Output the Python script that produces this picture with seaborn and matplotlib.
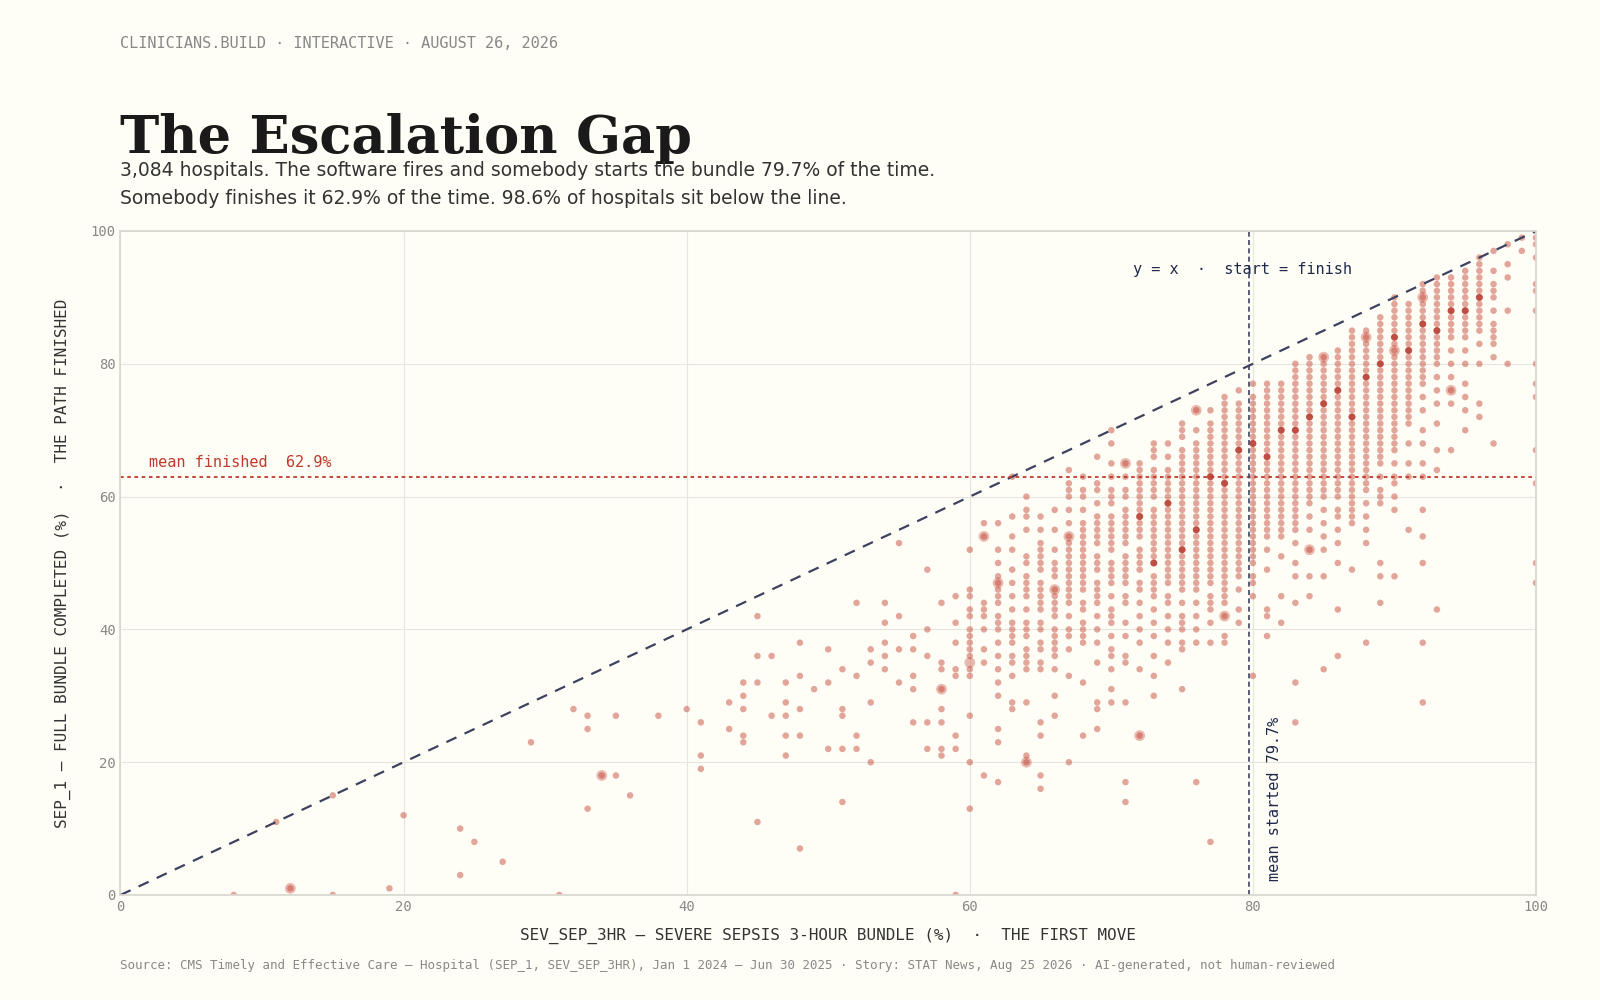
import matplotlib
matplotlib.use("Agg")
import matplotlib.pyplot as plt
import seaborn as sns
import pandas as pd

sns.set_theme(style="whitegrid")
plt.rcParams['font.family'] = ['DejaVu Sans']

BG = "#fffef6"
RED = "#c0392b"
NAVY = "#3d4260"

low_x = [8,11,12,15,15,19,20,24,24,25,27,29,31,32,33,33,33,34,35,35,36,38,40,41,41,41,43,43,44,44,44,44,44,45,45,45,45,46,46,47,47,47,47,47,48,48,48,48,48,49,50,50,50,51,51,51,51,51,52,52,52,52,53,53,53,53,54,54,54,54,54,55,55,55,55,56,56,56,56,56,57,57,57,57,57,58,58,58,58,58,58,58,58,59,59,59,59,59,59,59,59]
low_y = [0,11,1,0,15,1,12,3,10,8,5,23,0,28,13,25,27,18,18,27,15,27,28,19,21,26,25,29,23,24,28,30,32,11,32,36,42,27,36,21,24,27,29,32,7,24,28,33,38,31,22,32,37,14,22,27,28,34,22,24,33,44,20,29,35,37,34,36,38,41,44,32,37,42,53,26,31,33,37,39,22,26,36,40,49,21,22,26,28,31,34,35,44,0,22,24,33,34,38,41,45]

col_x = list(range(60, 101))
col_y = [
 [13,20,27,33,34,36,37,38,39,40,42,43,45,46,52],
 [18,35,37,40,42,43,44,54,56],
 [17,23,25,30,32,34,36,38,40,41,42,44,45,46,47,48,50,52,56],
 [28,29,33,35,36,38,39,40,41,43,45,47,49,52,54,57,63],
 [20,21,29,34,35,36,37,39,40,41,43,45,46,47,48,50,51,55,57,58,60],
 [16,18,24,26,34,35,37,38,40,41,43,44,45,46,47,49,50,51,52,53,55,57],
 [27,30,34,36,37,38,39,40,42,43,44,45,46,48,49,50,52,55,58],
 [20,33,37,39,40,42,44,45,46,47,48,49,50,51,52,53,54,56,58,60,61,62,64],
 [24,32,38,39,40,41,43,44,46,47,48,49,50,51,52,53,54,55,56,58,60,61,63],
 [25,28,29,35,38,40,42,44,45,46,47,49,50,51,53,54,55,56,57,59,61,62,66],
 [29,31,34,36,37,39,41,42,43,45,47,48,49,50,52,53,54,55,56,57,59,60,61,63,65,68,70],
 [14,17,29,35,36,39,41,44,45,47,48,49,50,51,53,54,55,56,57,58,60,61,63,65],
 [24,34,38,40,42,44,46,47,49,50,51,52,54,55,56,57,58,59,60,61,62,63,64,65],
 [30,33,36,39,41,43,45,46,47,48,50,51,52,53,54,55,56,57,58,60,61,62,63,64,66,67,68],
 [35,38,40,42,44,45,47,48,49,50,51,52,53,54,55,56,57,58,59,60,61,62,63,64,66,68],
 [31,37,38,40,41,42,44,46,47,48,49,50,51,52,53,54,55,56,57,58,59,60,61,62,63,64,65,66,67,69,70,71],
 [17,38,40,42,44,46,47,48,49,50,51,52,53,54,55,56,57,58,59,60,61,62,63,64,65,66,67,68,70,73],
 [8,38,41,43,44,45,47,48,49,50,51,52,53,54,55,56,57,58,59,60,61,62,63,64,65,66,67,68,69,70,71,73],
 [38,39,42,44,45,46,47,48,49,50,51,52,53,54,55,56,57,58,59,60,61,62,63,64,65,66,67,68,69,70,71,72,73,74,75],
 [41,43,46,48,49,50,51,52,53,54,55,56,57,58,59,60,61,62,63,64,65,66,67,68,69,70,71,72,73,74,76],
 [33,45,47,48,50,51,52,53,54,55,56,57,58,59,60,61,62,63,64,65,66,67,68,69,70,71,72,73,74,75,77],
 [39,42,43,49,52,54,55,56,57,58,59,60,61,62,63,64,65,66,67,68,69,70,71,72,73,74,75,76,77],
 [41,45,51,54,55,56,57,58,59,60,61,62,63,64,65,66,67,68,69,70,71,72,73,74,75,76,77],
 [26,32,44,48,50,53,55,56,57,58,59,60,61,62,63,64,65,66,67,68,69,70,71,72,73,74,75,76,77,78,79,80],
 [45,48,52,55,57,59,60,61,62,63,64,65,66,67,68,69,70,71,72,73,74,75,76,77,78,79,80,81],
 [34,48,52,54,56,58,60,61,62,63,64,65,66,67,68,69,70,71,72,73,74,75,76,77,78,79,80,81],
 [36,43,50,53,55,57,58,60,61,62,63,64,65,66,67,68,69,70,71,72,73,74,75,76,77,78,79,80,81,82],
 [49,56,57,58,59,60,61,62,63,64,65,66,67,68,69,70,71,72,73,74,75,76,77,78,79,80,81,82,83,84,85],
 [38,53,55,57,59,61,62,63,64,65,66,67,68,69,70,71,72,73,74,75,76,77,78,79,80,81,82,83,84,85],
 [44,48,50,59,60,61,63,65,66,67,68,69,70,71,72,73,74,75,76,77,78,79,80,81,82,83,84,85,86,87],
 [48,58,60,62,63,65,67,68,69,70,71,72,73,74,75,76,77,78,79,80,81,82,83,84,85,86,87,88,89,90],
 [55,63,65,68,71,72,73,74,75,76,77,78,79,80,81,82,83,84,85,86,87,88,89],
 [29,38,50,54,58,63,65,68,70,73,75,77,78,79,80,81,82,83,84,85,86,87,88,89,90,91,92],
 [43,64,67,71,74,76,78,80,81,82,83,84,85,86,87,88,89,90,91,92,93],
 [67,74,76,78,80,82,84,85,86,87,88,89,90,91,92,93],
 [70,73,75,77,80,82,84,85,86,87,88,89,90,91,92,93,94],
 [72,74,80,83,85,86,87,88,89,90,91,92,93,94,95,96],
 [68,81,83,84,85,86,88,90,91,92,94,97],
 [80,88,93,95,98],
 [97,99],
 [47,50,62,67,75,77,80,88,91,92,96,98,99,100],
]
dense_x = [72,74,76,78,80,82,84,86,88,90,92,94,96,73,75,77,79,81,83,85,87,89,91,93,95]
dense_y = [57,59,55,62,68,70,72,76,78,84,86,88,90,50,52,63,67,66,70,74,72,80,82,85,88]
big_x = [12,34,61,71,72,64,62,66,85,76,78,58,60,67,84,90,94,88,92]
big_y = [1,18,54,65,24,20,47,46,81,73,42,31,35,54,52,82,76,84,90]

xs = list(low_x)
ys = list(low_y)
for x, yl in zip(col_x, col_y):
    xs += [x] * len(yl)
    ys += yl
df = pd.DataFrame({"x": xs, "y": ys})
dfd = pd.DataFrame({"x": dense_x, "y": dense_y})
dfb = pd.DataFrame({"x": big_x, "y": big_y})

fig = plt.figure(figsize=(16, 10), dpi=100, facecolor=BG)
ax = fig.add_axes([0.0753, 0.105, 0.8847, 0.664])
ax.set_facecolor(BG)

sns.scatterplot(data=df, x="x", y="y", ax=ax, s=22, color=RED, alpha=0.45, edgecolor="none")
sns.scatterplot(data=dfd, x="x", y="y", ax=ax, s=26, color="#b02a1e", alpha=0.7, edgecolor="none")
sns.scatterplot(data=dfb, x="x", y="y", ax=ax, s=60, color=RED, alpha=0.35, edgecolor="none")

ax.plot([0, 100], [0, 100], ls=(0, (5, 4)), color=NAVY, lw=1.6)
ax.axhline(62.9, color=RED, ls=(0, (2, 2)), lw=1.3)
ax.axvline(79.7, color=NAVY, ls=(0, (3, 2)), lw=1.2)
mono = "DejaVu Sans Mono"
ax.text(2, 64.5, "mean finished  62.9%", color=RED, family=mono, fontsize=11)
ax.text(81, 2.5, "mean started 79.7%", color="#1f2a4a", family=mono, fontsize=11, rotation=90)
ax.text(71.5, 93.5, "y = x  ·  start = finish", color="#1f2a4a", family=mono, fontsize=11)

ax.set_xlim(0, 100)
ax.set_ylim(0, 100)
ax.set_xticks([0, 20, 40, 60, 80, 100])
ax.set_yticks([0, 20, 40, 60, 80, 100])
ax.tick_params(colors="#888888", labelsize=10, length=0)
for lab in ax.get_xticklabels() + ax.get_yticklabels():
    lab.set_family(mono)
ax.grid(color="#e6e6e0", lw=0.8)
for s in ax.spines.values():
    s.set_color("#d8d8d0")
ax.set_xlabel("SEV_SEP_3HR — SEVERE SEPSIS 3-HOUR BUNDLE (%)  ·  THE FIRST MOVE",
              family=mono, fontsize=11.5, color="#333333", labelpad=10)
ax.set_ylabel("SEP_1 — FULL BUNDLE COMPLETED (%)  ·  THE PATH FINISHED",
              family=mono, fontsize=11.5, color="#333333", labelpad=14)

fig.text(0.0753, 0.957, "CLINICIANS.BUILD · INTERACTIVE · AUGUST 26, 2026",
         family=mono, fontsize=11, color="#888888", va="center")
fig.text(0.0753, 0.862, "The Escalation Gap", family="DejaVu Serif", fontweight="bold",
         fontsize=38, color="#1a1a1a", va="center")
fig.text(0.0753, 0.829, "3,084 hospitals. The software fires and somebody starts the bundle 79.7% of the time.",
         fontsize=13.5, color="#333333", va="center")
fig.text(0.0753, 0.802, "Somebody finishes it 62.9% of the time. 98.6% of hospitals sit below the line.",
         fontsize=13.5, color="#333333", va="center")
fig.text(0.0753, 0.034, "Source: CMS Timely and Effective Care — Hospital (SEP_1, SEV_SEP_3HR), Jan 1 2024 – Jun 30 2025 · Story: STAT News, Aug 25 2026 · AI-generated, not human-reviewed",
         family=mono, fontsize=9, color="#888888", va="center")

fig.savefig("out.png", dpi=100, facecolor=BG)
